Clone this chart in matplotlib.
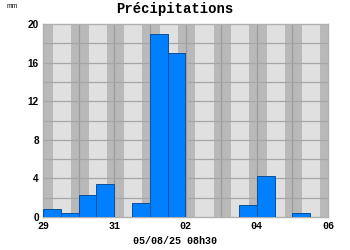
import numpy as np
import matplotlib
matplotlib.use('Agg')
import matplotlib.pyplot as plt

# 12h periods starting 29 00h (x in days from the 29th)
debut_periode = [0, 0.5, 1, 1.5, 2, 2.5, 3, 3.5, 4, 4.5, 5, 5.5, 6, 6.5, 7, 7.5]
pluie_mm = [0.8, 0.4, 2.25, 3.4, 0, 1.4, 19, 17, 0, 0, 0, 1.25, 4.2, 0, 0.4, 0]

jours_ticks = [0, 2, 4, 6, 8]
jours_labels = ['29', '31', '02', '04', '06']
y_ticks = [0, 4, 8, 12, 16, 20]

fig = plt.figure(figsize=(3.5, 2.5), dpi=100)
ax = fig.add_axes([0.123, 0.132, 0.814, 0.772])

ax.set_facecolor('#e0e0e0')
# nights (approx 19h -> 6h40)
for j in range(-1, 9):
    ax.axvspan(j + 0.79, j + 1.28, color='#b9b9b9', lw=0, zorder=0)

for j in range(1, 8):
    ax.axvline(j, color='#9c9c9c', lw=0.9, zorder=1)
for v in np.arange(2, 20, 2):
    ax.axhline(v, color='#a6a6a6', lw=0.9, zorder=1)

ax.bar(debut_periode, pluie_mm, width=0.5, align='edge', color='#0080ff',
       edgecolor='#0a4f9a', linewidth=0.7, zorder=3)

ax.set_xlim(0, 8)
ax.set_ylim(0, 20)
ax.set_xticks(jours_ticks)
ax.set_xticklabels(jours_labels, family='Liberation Mono', fontweight='bold', fontsize=7.2)
ax.set_yticks(y_ticks)
ax.set_yticklabels([str(v) for v in y_ticks], family='Liberation Sans', fontweight='bold', fontsize=7.2)
ax.tick_params(length=0, pad=3)
for s in ax.spines.values():
    s.set_color('#b0b0b0')
    s.set_linewidth(1)

fig.text(0.5, 0.966, 'Précipitations', ha='center', va='center',
         family='Liberation Mono', fontweight='bold', fontsize=10)
fig.text(0.035, 0.972, 'mm', ha='center', va='center', family='Liberation Sans', fontsize=4.8)
fig.text(0.5, 0.036, '05/08/25 08h30', ha='center', va='center',
         family='Liberation Mono', fontweight='bold', fontsize=7.2)

fig.savefig('out.png', dpi=100)
